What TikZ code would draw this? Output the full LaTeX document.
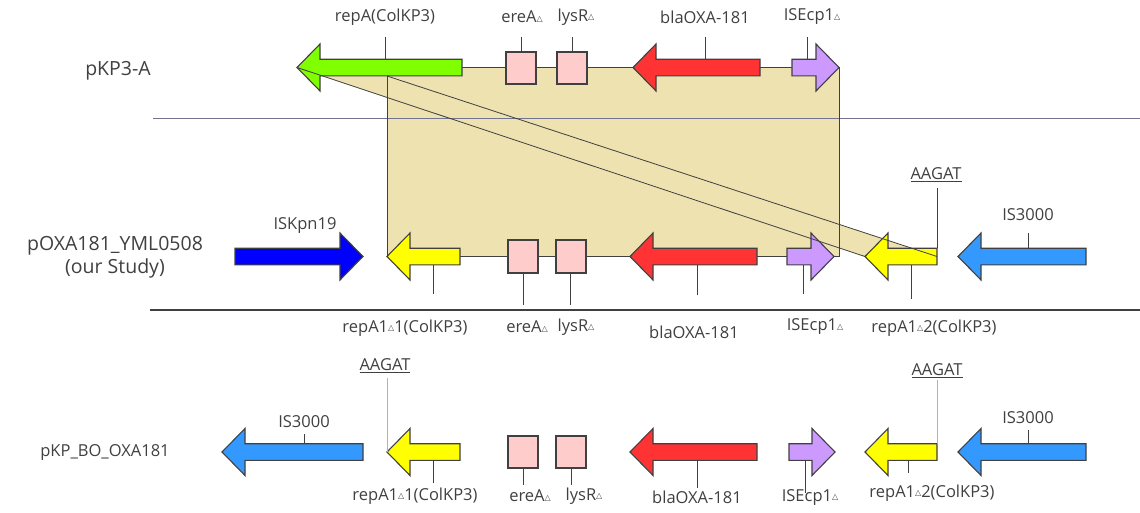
\documentclass[tikz,border=0pt]{standalone}
\usepackage{fontspec}
\setmainfont{Open Sans}
\newfontfamily\symfont{DejaVu Sans}
\definecolor{geneGreen}{RGB}{128,255,0}
\definecolor{geneRed}{RGB}{255,51,51}
\definecolor{genePurple}{RGB}{204,153,255}
\definecolor{geneYellow}{RGB}{255,255,0}
\definecolor{geneBlue}{RGB}{0,0,255}
\definecolor{geneSky}{RGB}{51,153,255}
\definecolor{boxPink}{RGB}{255,204,204}
\definecolor{homBeige}{RGB}{237,226,176}
\definecolor{ink}{RGB}{64,64,64}
\definecolor{rule}{RGB}{115,115,145}
\newcommand{\dlt}{{\symfont\fontsize{8}{8}\selectfont\raisebox{0.35ex}{△}}}
% left pointing gene: name, colour, tip x, end x, y
\newcommand{\lgene}[5]{%
  \draw[gene,fill=#2] (#3,#5) -- (#3+23,#5-23.5) -- (#3+23,#5-8.3) -- (#4,#5-8.3)
    -- (#4,#5+8.3) -- (#3+23,#5+8.3) -- (#3+23,#5+23.5) -- cycle;
  \coordinate (#1) at (#3,#5);}
% right pointing gene: name, colour, start x, tip x, y
\newcommand{\rgene}[5]{%
  \draw[gene,fill=#2] (#4,#5) -- (#4-23,#5-23.5) -- (#4-23,#5-8.3) -- (#3,#5-8.3)
    -- (#3,#5+8.3) -- (#4-23,#5+8.3) -- (#4-23,#5+23.5) -- cycle;
  \coordinate (#1) at (#4,#5);}
\tikzset{
  gene/.style={draw=ink,line width=1.1pt,line join=miter},
  pinkbox/.style={draw=ink,line width=1.1pt,fill=boxPink},
  tick/.style={draw=ink,line width=1pt},
  bb/.style={draw=ink,line width=0.8pt},
  lbl/.style={text=ink,font=\fontsize{16.5}{18}\selectfont,inner sep=0pt}
}
\begin{document}
\begin{tikzpicture}[x=1pt,y=-1pt]
\useasboundingbox (0,0) rectangle (1140,512);
% homology block
\fill[homBeige] (297,67.5) -- (839,67.5) -- (839,224.3) -- (937,256.5) -- (865,256.5)
  -- (839,247.8) -- (839,256.5) -- (387,256.5) -- (387,97.4) -- cycle;
\draw[rule,line width=0.8pt] (153,118) -- (1140,118);
\draw[ink,line width=1.2pt] (150,310) -- (1140,310);
\draw[bb] (462,67.5) -- (839,67.5) -- (839,256.5) -- (387,256.5) -- (387,76);
\coordinate (cutA) at (387,76);
% pKP3-A
\lgene{repA}{geneGreen}{297}{462}{67.5}
\draw[pinkbox] (506,52) rectangle (536,84);
\draw[pinkbox] (557,52) rectangle (587,84);
\lgene{blaA}{geneRed}{633}{760}{67.5}
\rgene{iseA}{genePurple}{792}{839}{67.5}
\foreach \x/\a/\b in {385/37/59.2,521/37/52,572/37/52,705/37/59.2,807/37/59.2}
  \draw[tick] (\x,\a) -- (\x,\b);
% pOXA181_YML0508
\rgene{iskB}{geneBlue}{235}{363}{256.5}
\lgene{repB}{geneYellow}{387}{460}{256.5}
\draw[pinkbox] (508,240) rectangle (538,273);
\draw[pinkbox] (556,240) rectangle (586,273);
\lgene{blaB}{geneRed}{630}{757}{256.5}
\rgene{iseB}{genePurple}{787}{834}{256.5}
\lgene{repBB}{geneYellow}{865}{937}{256.5}
\lgene{isB}{geneSky}{958}{1086}{256.5}
\foreach \x/\a/\b in {433/264.8/294,523/273/305,570/273/305,697/264.8/295,
  803/264.8/294,911/264.8/299,1028/233/248.2,937/188/248.2}
  \draw[tick] (\x,\a) -- (\x,\b);
\coordinate (endB) at (937,256.5);
\draw[bb] (repA) -- (repBB);
\draw[bb] (cutA) -- (endB);
% pKP_BO_OXA181
\lgene{isC}{geneSky}{222}{363}{452}
\lgene{repC}{geneYellow}{387}{460}{452}
\draw[pinkbox] (508,436) rectangle (538,468);
\draw[pinkbox] (556,436) rectangle (586,468);
\lgene{blaC}{geneRed}{630}{757}{452}
\rgene{iseC}{genePurple}{789}{835}{452}
\lgene{repCC}{geneYellow}{865}{937}{452}
\lgene{isCC}{geneSky}{958}{1086}{452}
\foreach \x/\a/\b in {304/434/443.7,433/460.3/483,523/468/485,571/468/485,
  697/460.3/488,805/460.3/493,908/460.3/473,1028/430/443.7}
  \draw[tick] (\x,\a) -- (\x,\b);
\draw[gray!60,line width=0.8pt] (387,378) -- (repC);
\draw[gray!60,line width=0.8pt] (937,380) -- (937,443.7);
% labels
\foreach \n/\x/\y/\t in {a1/385/17/repA(ColKP3),a2/522/17/ereA\dlt,a3/576/17/lysR\dlt,
  a4/705/17/blaOXA-181,a5/812/17/ISEcp1\dlt,
  b0/305/226/ISKpn19,b1/405/328/repA1\dlt1(ColKP3),b2/527/327/ereA\dlt,b3/576/327/lysR\dlt,
  b4/694/332/blaOXA-181,b5/815/327/ISEcp1\dlt,b6/934/328/repA1\dlt2(ColKP3),
  b7/936/175/\underline{AAGAT},b8/1028/215/IS3000,
  c0/304/422/IS3000,c1/385/366/\underline{AAGAT},c2/415/496/repA1\dlt1(ColKP3),
  c3/530/496/ereA\dlt,c4/584/496/lysR\dlt,c5/697/497/blaOXA-181,c6/810/497/ISEcp1\dlt,
  c7/932/493/repA1\dlt2(ColKP3),c8/937/371/\underline{AAGAT},c9/1028/418/IS3000}
  \node[lbl] (l\n) at (\x,\y) {\t};
\node[lbl,font=\fontsize{19.5}{22}\selectfont] (rowA) at (118,71) {pKP3-A};
\node[lbl,font=\fontsize{19.5}{23}\selectfont,align=center] (rowB) at (115,257)
  {pOXA181\_YML0508\\(our Study)};
\node[lbl,font=\fontsize{16.5}{18}\selectfont] (rowC) at (105,452) {pKP\_BO\_OXA181};
\end{tikzpicture}
\end{document}
